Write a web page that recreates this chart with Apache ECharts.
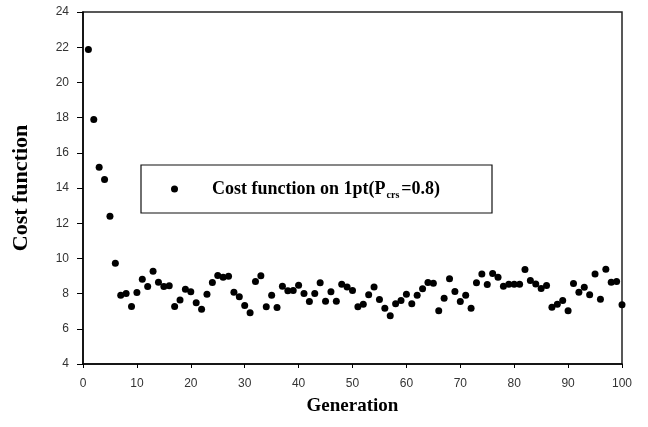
<!DOCTYPE html>
<html>

<head>
    <title>Cost function vs generation</title>
    <meta charset="utf-8" />
    <script src="https://cdn.jsdelivr.net/npm/echarts@6/dist/echarts.min.js"></script>
    <style type="text/css">
        html,
        body {
            width: 100%;
            height: 100%;
            margin: 0;
            background: #fff;
        }

        #chart {
            width: 648px;
            height: 427px;
        }
    </style>
</head>

<body>
    <div id="chart"></div>
    <script>
        // cost value per generation, generation 1..100
        var cost = [
            21.87, 17.89, 15.18, 14.48, 12.40, 9.73, 7.91, 8.00, 7.27, 8.06,
            8.82, 8.40, 9.27, 8.65, 8.40, 8.44, 7.27, 7.63, 8.25, 8.10,
            7.48, 7.11, 7.97, 8.63, 9.03, 8.93, 8.99, 8.08, 7.82, 7.32,
            6.91, 8.69, 9.01, 7.25, 7.91, 7.21, 8.42, 8.16, 8.18, 8.48,
            8.00, 7.55, 8.00, 8.61, 7.57, 8.10, 7.57, 8.53, 8.38, 8.18,
            7.25, 7.40, 7.93, 8.38, 7.66, 7.17, 6.74, 7.42, 7.61, 7.97,
            7.42, 7.91, 8.27, 8.63, 8.59, 7.02, 7.74, 8.84, 8.12, 7.55,
            7.91, 7.17, 8.61, 9.12, 8.52, 9.14, 8.93, 8.42, 8.53, 8.53,
            8.53, 9.37, 8.74, 8.55, 8.29, 8.46, 7.23, 7.40, 7.61, 7.02,
            8.57, 8.08, 8.36, 7.93, 9.12, 7.68, 9.39, 8.65, 8.69, 7.36
        ];
        var seriesName = 'Cost function on 1pt(Pcrs=0.8)';

        var points = cost.map(function (v, i) {
            return [i + 1, v];
        });

        var chart = echarts.init(document.getElementById('chart'), null, { renderer: 'canvas' });

        var option = {
            backgroundColor: '#fff',
            animation: false,
            grid: {
                left: 83,
                right: 26,
                top: 12,
                bottom: 63,
                show: true,
                borderColor: '#222',
                borderWidth: 1.5
            },
            graphic: [{
                type: 'rect',
                z: 1,
                shape: { x: 141, y: 165, width: 351, height: 48 },
                style: { fill: '#fff', stroke: '#111', lineWidth: 1.2 }
            }],
            legend: {
                left: 166,
                top: 175,
                z: 5,
                icon: 'circle',
                itemWidth: 7,
                itemHeight: 7,
                data: [seriesName],
                formatter: function () {
                    return '{a|Cost function on 1pt(P}{s|crs}{a|=0.8)}';
                },
                textStyle: {
                    rich: {
                        a: {
                            fontFamily: 'Liberation Serif',
                            fontWeight: 'bold',
                            fontSize: 18,
                            color: '#000',
                            lineHeight: 22
                        },
                        s: {
                            fontFamily: 'Liberation Serif',
                            fontWeight: 'bold',
                            fontSize: 10,
                            color: '#000',
                            lineHeight: 22,
                            verticalAlign: 'bottom',
                            padding: [9, 2, 0, 1]
                        }
                    },
                    padding: [0, 0, 0, 29]
                }
            },
            xAxis: {
                type: 'value',
                min: 0,
                max: 100,
                interval: 10,
                name: 'Generation',
                nameLocation: 'middle',
                nameGap: 33,
                nameTextStyle: {
                    fontFamily: 'Liberation Serif',
                    fontWeight: 'bold',
                    fontSize: 19,
                    color: '#000'
                },
                axisLine: { onZero: false, lineStyle: { color: '#000', width: 1.5 } },
                axisTick: { show: true, length: 4, lineStyle: { color: '#000' } },
                axisLabel: {
                    margin: 14,
                    fontFamily: 'Liberation Sans',
                    fontSize: 12,
                    color: '#333'
                },
                splitLine: { show: false }
            },
            yAxis: {
                type: 'value',
                min: 4,
                max: 24,
                interval: 2,
                name: 'Cost function',
                nameLocation: 'middle',
                nameGap: 51,
                nameTextStyle: {
                    fontFamily: 'Liberation Serif',
                    fontWeight: 'bold',
                    fontSize: 22,
                    color: '#000'
                },
                axisLine: { show: true, onZero: false, lineStyle: { color: '#000', width: 1.5 } },
                axisTick: { show: true, length: 6, lineStyle: { color: '#000' } },
                axisLabel: {
                    margin: 14,
                    fontFamily: 'Liberation Sans',
                    fontSize: 12,
                    color: '#333'
                },
                splitLine: { show: false }
            },
            series: [{
                name: seriesName,
                type: 'scatter',
                symbol: 'circle',
                symbolSize: 7,
                itemStyle: { color: '#000', opacity: 1 },
                data: points
            }]
        };

        chart.setOption(option);
    </script>
</body>

</html>
